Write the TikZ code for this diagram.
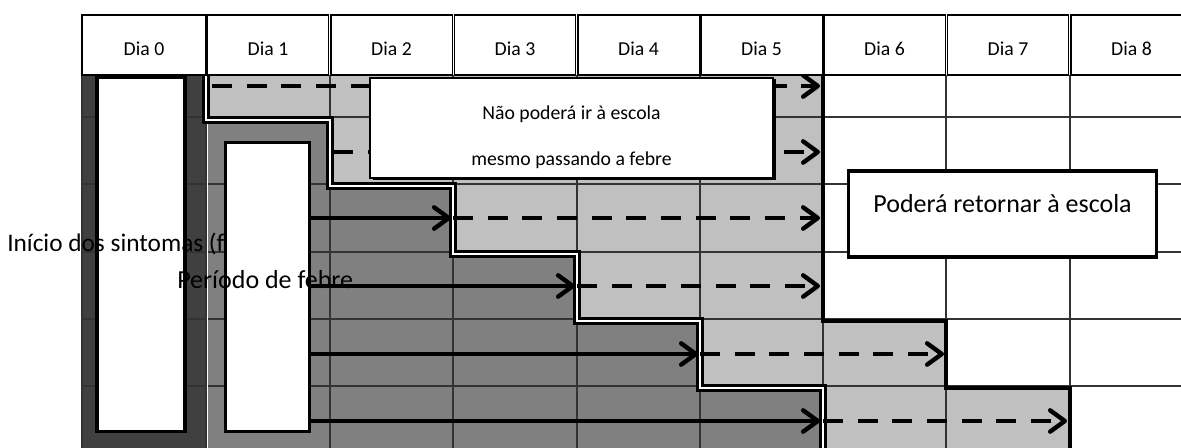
\documentclass[tikz,border=0pt]{standalone}
\usepackage{fontspec}
\setmainfont{Carlito}
\usetikzlibrary{arrows.meta}
\definecolor{darkfill}{HTML}{404040}
\definecolor{midfill}{HTML}{808080}
\definecolor{lightfill}{HTML}{C0C0C0}
\begin{document}
\begin{tikzpicture}[x=0.75pt,y=-0.75pt,
  gridline/.style={draw=black!80, line width=0.8pt},
  hdrcell/.style={draw=black, line width=1pt, fill=white, minimum height=45pt, inner sep=0pt, outer sep=0pt},
  hdrtext/.style={font=\fontsize{14.8}{17}\selectfont, anchor=base, inner sep=0pt},
  tallbox/.style={draw=black, line width=2.4pt, fill=white, inner sep=0pt, outer sep=0pt},
  solidarrow/.style={line width=3.3pt, -{Straight Barb[length=11pt,width=16pt,round]}},
  dasharrow/.style={solidarrow, dash pattern=on 15pt off 11pt},
  bigtext/.style={font=\fontsize{19.5}{23}\selectfont, inner sep=0pt},
  smalltext/.style={font=\fontsize{14.8}{17}\selectfont, inner sep=0pt, anchor=base}]
\useasboundingbox (0,0) rectangle (1181,448);
\fill[white] (0,0) rectangle (1181,448);
\begin{scope}
\clip (0,0) rectangle (1181,448);
% fills
\fill[darkfill] (82,75) rectangle (206,460);
\fill[midfill] (206,120) -- (330,120) -- (330,186) -- (453,186) -- (453,254) -- (577,254) -- (577,321) -- (700,321) -- (700,388) -- (823,388) -- (823,460) -- (206,460) -- cycle;
\fill[lightfill] (206,75) -- (823,75) -- (823,321) -- (946,321) -- (946,388) -- (1070,388) -- (1070,460) -- (823,460) -- (823,388) -- (700,388) -- (700,321) -- (577,321) -- (577,254) -- (453,254) -- (453,186) -- (330,186) -- (330,120) -- (206,120) -- cycle;
% grid
\foreach \gx in {82,206,330,453,577,700,823,946,1070}
  \draw[gridline] (\gx,75) -- (\gx,460);
\foreach \gy in {117,184,252,319,386}
  \draw[gridline] (82,\gy) -- (1181,\gy);
% medium region white edge
\draw[white, line width=0.7pt] (207.5,124) -- (207.5,460);
% staircase double line
\draw[black, line width=5.5pt, line join=miter] (206,75) -- (206,120) -- (330,120) -- (330,186) -- (453,186) -- (453,254) -- (577,254) -- (577,321) -- (700,321) -- (700,388) -- (823,388) -- (823,460);
\draw[white, line width=2pt, line join=miter] (206,75) -- (206,120) -- (330,120) -- (330,186) -- (453,186) -- (453,254) -- (577,254) -- (577,321) -- (700,321) -- (700,388) -- (823,388) -- (823,460);
% right boundary
\draw[black, line width=3.6pt, line join=miter] (823,60) -- (823,321) -- (946,321) -- (946,388) -- (1070,388) -- (1070,460);
% arrow coordinates
\coordinate (a1s) at (212,86);  \coordinate (a1e) at (820,86);
\coordinate (a2s) at (333,152); \coordinate (a2e) at (820,152);
\coordinate (s3s) at (310,218); \coordinate (s3e) at (451,218);
\coordinate (d3s) at (453,218); \coordinate (d3e) at (820,218);
\coordinate (s4s) at (310,286); \coordinate (s4e) at (575,286);
\coordinate (d4s) at (577,286); \coordinate (d4e) at (820,286);
\coordinate (s5s) at (310,354); \coordinate (s5e) at (698,354);
\coordinate (d5s) at (700,354); \coordinate (d5e) at (944,354);
\coordinate (s6s) at (310,421); \coordinate (s6e) at (820,421);
\coordinate (d6s) at (823,421); \coordinate (d6e) at (1067,421);
\draw[dasharrow] (a1s) -- (a1e);
\draw[dasharrow] (a2s) -- (a2e);
\draw[dasharrow] (d3s) -- (d3e);
\draw[dasharrow] (d4s) -- (d4e);
\draw[dasharrow] (d5s) -- (d5e);
\draw[dasharrow] (d6s) -- (d6e);
\draw[solidarrow] (s3s) -- (s3e);
\draw[solidarrow] (s4s) -- (s4e);
\draw[solidarrow] (s5s) -- (s5e);
\draw[solidarrow] (s6s) -- (s6e);
% tall boxes and their labels
\node[tallbox, minimum width=66pt, minimum height=266pt] (day0box) at (141,254.5) {};
\node[bigtext, anchor=base west, font=\fontsize{19}{23}\selectfont] (inicio) at (7,252) {Início dos sintomas (f};
\node[tallbox, minimum width=63pt, minimum height=217pt] (feverbox) at (267.5,287) {};
\node[bigtext, anchor=base west] (periodo) at (177,289) {Período de febre};
% header cells
\node[hdrcell, minimum width=93pt] (h0) at (144,45) {};
\node[hdrcell, minimum width=91pt] (h1) at (268,45) {};
\node[hdrcell, minimum width=91pt] (h2) at (391.5,45) {};
\node[hdrcell, minimum width=91pt] (h3) at (515,45) {};
\node[hdrcell, minimum width=91pt] (h4) at (638.5,45) {};
\node[hdrcell, minimum width=91pt] (h5) at (761.5,45) {};
\node[hdrcell, minimum width=91pt] (h6) at (884.5,45) {};
\node[hdrcell, minimum width=91pt] (h7) at (1008,45) {};
\node[hdrcell, minimum width=91pt] (h8) at (1131.5,45) {};
\node[hdrtext] (t0) at (144,56) {Dia 0};
\node[hdrtext] (t1) at (268,56) {Dia 1};
\node[hdrtext] (t2) at (391.5,56) {Dia 2};
\node[hdrtext] (t3) at (515,56) {Dia 3};
\node[hdrtext] (t4) at (638.5,56) {Dia 4};
\node[hdrtext] (t5) at (761.5,56) {Dia 5};
\node[hdrtext] (t6) at (884.5,56) {Dia 6};
\node[hdrtext] (t7) at (1008,56) {Dia 7};
\node[hdrtext] (t8) at (1131.5,56) {Dia 8};
% note box
\fill[black] (373,79) rectangle (776,180);
\node[draw=black, line width=1.4pt, fill=white, minimum width=302pt, minimum height=75pt, inner sep=0pt] (notebox) at (571.5,128) {};
\node[smalltext] (note1) at (571.5,120) {Não poderá ir à escola};
\node[smalltext] (note2) at (571.5,166) {mesmo passando a febre};
% return box
\node[draw=black, line width=2.3pt, fill=white, minimum width=231.5pt, minimum height=64.5pt, inner sep=0pt] (returnbox) at (1002.5,214) {};
\node[bigtext, anchor=base] (returntext) at (1002.5,213) {Poderá retornar à escola};
\end{scope}
\end{tikzpicture}
\end{document}
